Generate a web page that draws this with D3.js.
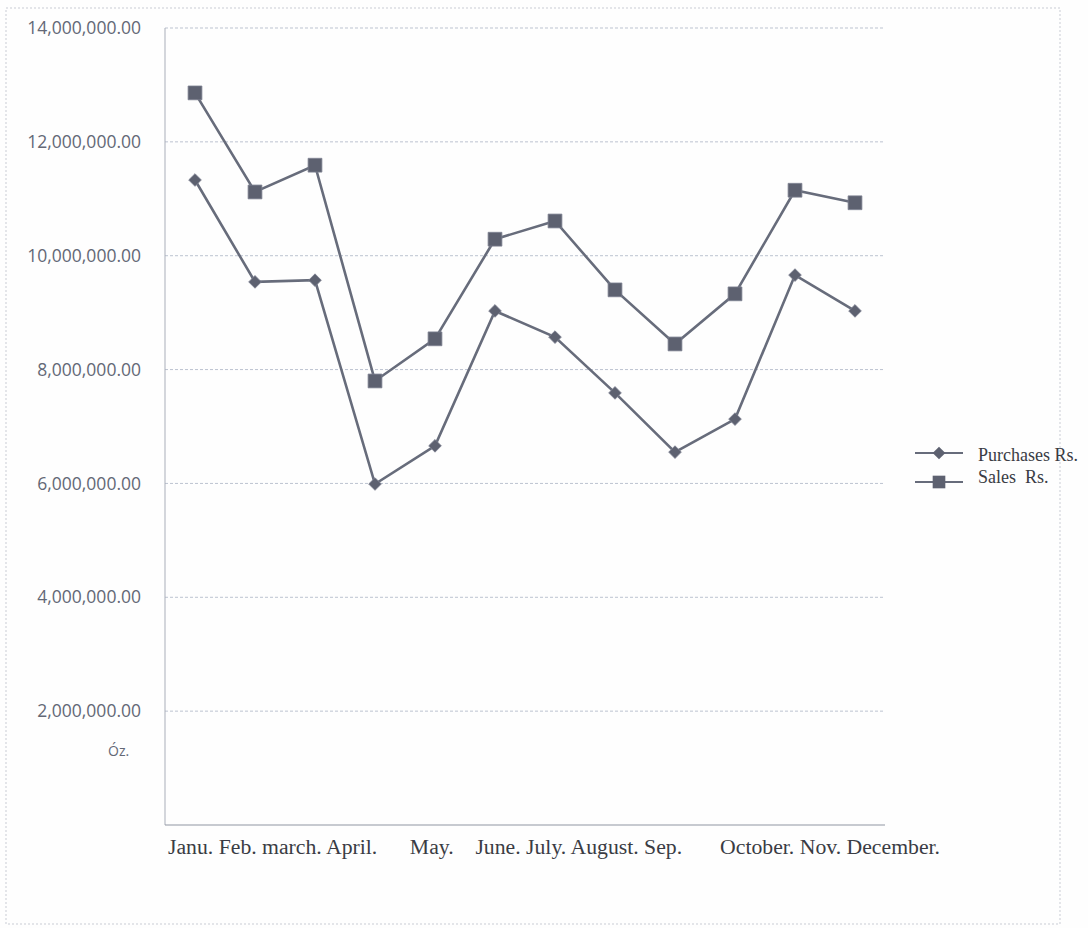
<!DOCTYPE html>
<html>
<head>
<meta charset="utf-8">
<script src="https://cdn.jsdelivr.net/npm/d3@7"></script>
<style>
  body { margin: 0; background: #fefefe; }
  svg { display: block; }
  .ytick { font-family: "Open Sans", "Noto Sans", sans-serif; font-size: 17.5px; fill: #636876; }
  .serif { font-family: "Liberation Serif", "DejaVu Serif", serif; fill: #3a3c44; }
</style>
</head>
<body>
<svg id="chart" width="1088" height="928"></svg>
<script>
// ---- data ----
const months = ['Janu.', 'Feb.', 'march.', 'April.', 'May.', 'June.', 'July.', 'August.', 'Sep.', 'October.', 'Nov.', 'December.'];
const purchases = [11330000, 9540000, 9570000, 5990000, 6660000, 9030000, 8570000, 7590000, 6550000, 7130000, 9660000, 9030000];
const sales = [12860000, 11120000, 11590000, 7800000, 8540000, 10290000, 10610000, 9400000, 8450000, 9330000, 11150000, 10930000];
const yTicks = [2000000, 4000000, 6000000, 8000000, 10000000, 12000000, 14000000];
const seriesNames = ['Purchases Rs.', 'Sales  Rs.'];

const svg = d3.select('#chart');
const lineColor = '#676c7b';
const markColor = '#5d6170';

// faint page border from the scan
svg.append('rect')
  .attr('x', 6).attr('y', 8).attr('width', 1054).attr('height', 916)
  .attr('fill', 'none').attr('stroke', '#c9ccd4').attr('stroke-width', 1)
  .attr('stroke-dasharray', '2,2');

const plot = { left: 165, right: 885, top: 28, bottom: 825 };

const x = d3.scaleBand().domain(months).range([plot.left, plot.right]);
const y = d3.scaleLinear().domain([0, 14000000]).range([plot.bottom, plot.top]);
const fmt = d3.format(',.2f');

// gridlines
svg.append('g').selectAll('line')
  .data(yTicks).enter().append('line')
  .attr('x1', plot.left).attr('x2', plot.right)
  .attr('y1', (d) => y(d)).attr('y2', (d) => y(d))
  .attr('stroke', '#bcc3d0').attr('stroke-width', 1)
  .attr('stroke-dasharray', '3,2');

// axes lines
svg.append('line')
  .attr('x1', plot.left).attr('x2', plot.left)
  .attr('y1', plot.top).attr('y2', plot.bottom)
  .attr('stroke', '#a9aeb9').attr('stroke-width', 1);
svg.append('line')
  .attr('x1', plot.left).attr('x2', plot.right)
  .attr('y1', plot.bottom).attr('y2', plot.bottom)
  .attr('stroke', '#8f95a2').attr('stroke-width', 1.2);

// y tick labels
svg.append('g').selectAll('text')
  .data(yTicks).enter().append('text')
  .attr('class', 'ytick')
  .attr('x', 141).attr('y', (d) => y(d))
  .attr('dy', '0.35em').attr('text-anchor', 'end')
  .text((d) => fmt(d));

svg.append('text').attr('class', 'ytick')
  .attr('x', 108).attr('y', 756).style('font-size', '14px').text('Óz.');

// x labels: typed as one line under the axis
svg.append('text')
  .attr('class', 'serif')
  .attr('x', 168).attr('y', 854)
  .style('font-size', '20px').style('white-space', 'pre')
  .attr('textLength', 772).attr('lengthAdjust', 'spacingAndGlyphs')
  .text(months.slice(0, 4).join(' ') + '      ' + months[4] + '    ' +
        months.slice(5, 9).join(' ') + '       ' + months.slice(9).join(' '));

const line = d3.line()
  .x((d, i) => x(months[i]) + x.bandwidth() / 2)
  .y((d) => y(d));

function drawSeries(values, shape, size, rot) {
  svg.append('path')
    .datum(values)
    .attr('d', line)
    .attr('fill', 'none')
    .attr('stroke', lineColor)
    .attr('stroke-width', 2.6);

  svg.append('g').selectAll('path')
    .data(values).enter().append('path')
    .attr('d', d3.symbol().type(shape).size(size))
    .attr('transform', (d, i) => `translate(${x(months[i]) + x.bandwidth() / 2},${y(d)}) rotate(${rot})`)
    .attr('fill', markColor)
    .attr('stroke', '#7c8090').attr('stroke-width', 0.8);
}

drawSeries(purchases, d3.symbolSquare, 80, 45);
drawSeries(sales, d3.symbolSquare, 190, 0);

// legend
const legend = svg.append('g').attr('transform', 'translate(915,453)');
const shapes = [[80, 45], [160, 0]];
seriesNames.forEach((name, i) => {
  const row = legend.append('g').attr('transform', `translate(0,${i * 29})`);
  row.append('line').attr('x1', 0).attr('x2', 48).attr('y1', 0).attr('y2', 0)
    .attr('stroke', lineColor).attr('stroke-width', 2);
  row.append('path').attr('d', d3.symbol().type(d3.symbolSquare).size(shapes[i][0]))
    .attr('transform', `translate(24,0) rotate(${shapes[i][1]})`).attr('fill', markColor);
  row.append('text').attr('class', 'serif')
    .attr('x', 63).attr('y', i === 0 ? 8 : 1)
    .style('font-size', '18px').style('white-space', 'pre')
    .text(name);
});
</script>
</body>
</html>
